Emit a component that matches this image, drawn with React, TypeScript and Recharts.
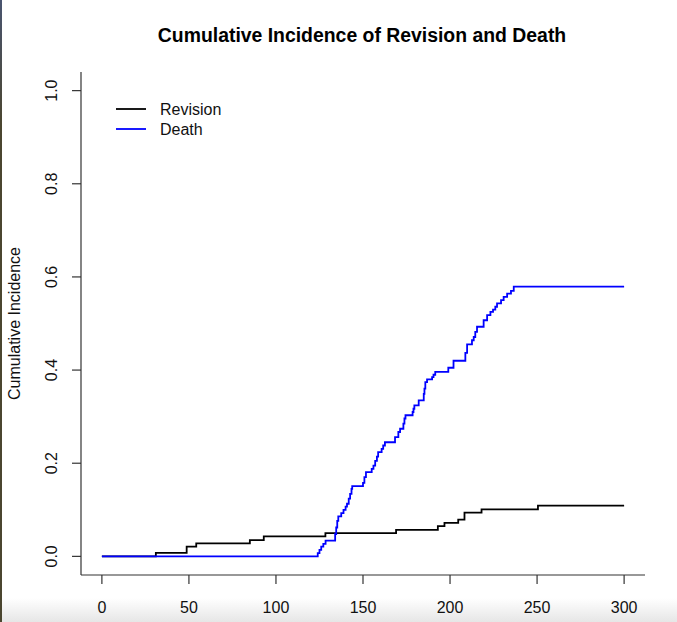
import React from "react";
import { Customized, Line, LineChart, XAxis, YAxis } from "recharts";

// event times (days) and cumulative incidence estimates, step functions
const revisionTime = [0, 31, 48.7, 54.2, 85, 93, 128.4, 169, 193, 196.8, 204.7, 208.3, 218.1, 250.5, 300];
const revisionCI = [0, 0.0075, 0.021, 0.028, 0.035, 0.043, 0.05, 0.057, 0.065, 0.072, 0.079, 0.094, 0.101, 0.109, 0.109];

const deathTime = [
  0, 124, 125, 126, 127.2, 128.5, 134, 134.6, 135.2, 135.8, 137.5, 138.8, 140, 140.8, 141.8, 142.6, 143.4, 143.8,
  150, 150.8, 151.7, 155, 156, 157, 158, 158.7, 160.7, 161.6, 162.6, 168.4, 170.3, 171.3, 173.2, 173.8, 174.4,
  178.5, 179, 179.5, 182, 184.9, 185.3, 185.8, 186.8, 189.7, 190.5, 191.5, 199, 202, 208.8, 209.8, 212.6, 213.6,
  214.5, 215.5, 219.3, 221.3, 223.2, 224.7, 226, 227, 229.3, 230.8, 232.8, 235, 236.6, 300,
];
const deathCI = [
  0, 0.007, 0.014, 0.021, 0.027, 0.034, 0.048, 0.062, 0.076, 0.086, 0.093, 0.1, 0.107, 0.113, 0.124, 0.134, 0.145, 0.151,
  0.158, 0.17, 0.181, 0.188, 0.195, 0.205, 0.214, 0.224, 0.231, 0.238, 0.245, 0.256, 0.267, 0.274, 0.285, 0.296, 0.303,
  0.31, 0.317, 0.324, 0.335, 0.349, 0.36, 0.374, 0.38, 0.385, 0.39, 0.396, 0.405, 0.42, 0.437, 0.455, 0.464, 0.471,
  0.482, 0.493, 0.507, 0.518, 0.525, 0.53, 0.536, 0.543, 0.55, 0.557, 0.564, 0.57, 0.579, 0.579,
];

const xTicks = [0, 50, 100, 150, 200, 250, 300];
const yTicks = [0, 0.2, 0.4, 0.6, 0.8, 1.0];

const series = [
  { name: "Revision", color: "#000000", data: revisionTime.map((t, i) => ({ t, ci: revisionCI[i] })) },
  { name: "Death", color: "#0000ff", data: deathTime.map((t, i) => ({ t, ci: deathCI[i] })) },
];

const FONT = '"Liberation Sans", Arial, sans-serif';
const AXIS = "#333333";

const XTick = (props: any) => {
  const { x, y, payload } = props;
  return (
    <text x={x} y={y} dy={27} textAnchor="middle" fontFamily={FONT} fontSize={16} fill="#111">
      {payload.value}
    </text>
  );
};

const YTick = (props: any) => {
  const { x, y, payload } = props;
  const px = x - 12.5;
  return (
    <text
      x={px}
      y={y}
      textAnchor="middle"
      transform={`rotate(-90, ${px}, ${y})`}
      fontFamily={FONT}
      fontSize={16}
      fill="#111"
    >
      {Number(payload.value).toFixed(1)}
    </text>
  );
};

const YLabel = (props: any) => {
  const vb = props.viewBox || { x: 0, y: 72, width: 81, height: 503 };
  const cy = vb.y + vb.height / 2;
  return (
    <text x={20} y={cy} textAnchor="middle" transform={`rotate(-90, 20, ${cy})`} fontFamily={FONT} fontSize={16} fill="#111">
      Cumulative Incidence
    </text>
  );
};

// title and legend drawn straight into the svg
const Decorations = () => (
  <g fontFamily={FONT}>
    <text x={362} y={42} textAnchor="middle" fontSize={19.4} fontWeight="bold" fill="#000">
      Cumulative Incidence of Revision and Death
    </text>
    {series.map((s, i) => (
      <g key={s.name}>
        <line x1={116} x2={146} y1={109 + i * 20} y2={109 + i * 20} stroke={s.color} strokeWidth={1.8} />
        <text x={160} y={115 + i * 20} fontSize={16} fill="#111">
          {s.name}
        </text>
      </g>
    ))}
  </g>
);

const App: React.FC = () => {
  return (
    <div style={{ position: "absolute", left: 0, top: 0, width: 677, height: 622, background: "#fff", overflow: "hidden" }}>
      {/* grey fade along the bottom, kept under the chart so the tick labels stay dark */}
      <div style={{ position: "absolute", left: 0, bottom: 0, width: 677, height: 24, background: "linear-gradient(rgba(232,232,232,0), #e6e6e6)" }} />
      <div style={{ position: "absolute", left: 0, top: 0 }}>
        <LineChart width={677} height={622} margin={{ top: 72, right: 32, bottom: 7, left: 0 }}>
          <XAxis
            type="number"
            dataKey="t"
            domain={[-12, 312]}
            ticks={xTicks}
            allowDataOverflow
            height={40}
            tickSize={9}
            tick={<XTick />}
            axisLine={{ stroke: AXIS, strokeWidth: 1.2 }}
            tickLine={{ stroke: AXIS, strokeWidth: 1.2 }}
          />
          <YAxis
            type="number"
            domain={[-0.04, 1.04]}
            ticks={yTicks}
            allowDataOverflow
            width={81}
            tickSize={9}
            tick={<YTick />}
            axisLine={{ stroke: AXIS, strokeWidth: 1.2 }}
            tickLine={{ stroke: AXIS, strokeWidth: 1.2 }}
            label={<YLabel />}
          />
          {series.map((s) => (
            <Line
              key={s.name}
              data={s.data}
              dataKey="ci"
              name={s.name}
              type="stepAfter"
              stroke={s.color}
              strokeWidth={1.8}
              dot={false}
              activeDot={false}
              isAnimationActive={false}
            />
          ))}
          <Customized component={Decorations} />
        </LineChart>
      </div>
      <div style={{ position: "absolute", left: 0, top: 0, width: 2, height: 622, background: "linear-gradient(#4a5570, #4b4630 20%, #4b4630)" }} />
    </div>
  );
};

export default App;
